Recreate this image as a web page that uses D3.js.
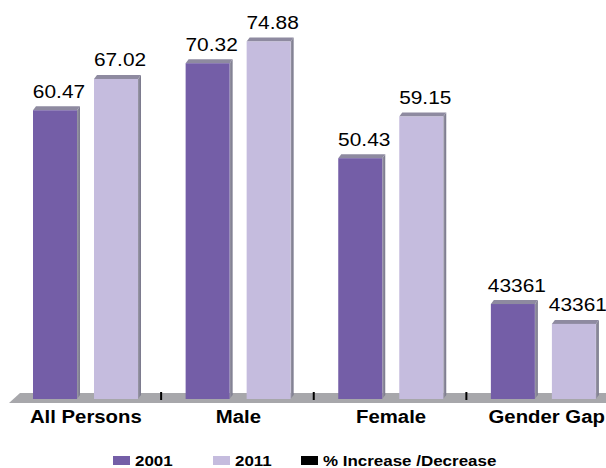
<!DOCTYPE html>
<html>
<head>
<meta charset="utf-8">
<script src="https://cdn.jsdelivr.net/npm/d3@7"></script>
<style>
  html, body { margin: 0; padding: 0; background: #fff; }
  svg { display: block; font-family: Arial, "Liberation Sans", sans-serif; }
</style>
</head>
<body>
<svg id="chart" width="606" height="468"></svg>
<script>
// Literacy rate by group, census years
const categories = ["All Persons", "Male", "Female", "Gender Gap"];
const seriesNames = ["2001", "2011", "% Increase /Decrease"];
const values2001 = [60.47, 70.32, 50.43, 19.89];
const values2011 = [67.02, 74.88, 59.15, 15.73];
// Printed labels (the gap cells carry their own display text)
const labels2001 = ["60.47", "70.32", "50.43", "43361"];
const labels2011 = ["67.02", "74.88", "59.15", "43361"];
const seriesColors = ["#745ea7", "#c5bcde", "#000000"];

const svg = d3.select("#chart");
const W = 606, H = 468;
const baseY = 399, topY = 17;
const stretch = 1.13;          // text is set slightly wide
const depth = { dx: 3, dy: -4 };

const x = d3.scaleBand().domain(categories).range([8.5, 619]).paddingInner(0).paddingOuter(0);
const xs = d3.scaleBand().domain(["2001", "2011"]).range([24.5, 129.5]).paddingInner(0.279).paddingOuter(0);
const y = d3.scaleLinear().domain([0, 80]).range([baseY, topY]);

// floor
svg.append("polygon")
  .attr("points", [[20, 393], [W, 393], [W, 403], [9, 403]].map(p => p.join(",")).join(" "))
  .attr("fill", "#a7a7ab");

// category divider ticks
const ticks = categories.slice(1).map(c => x(c));
svg.selectAll("line.tick").data(ticks).join("line")
  .attr("class", "tick")
  .attr("x1", d => d).attr("x2", d => d)
  .attr("y1", 392).attr("y2", 400)
  .attr("stroke", "#000").attr("stroke-width", 2);

const defs = svg.append("defs");
const sideGrad = defs.append("linearGradient").attr("id", "side").attr("x1", 0).attr("x2", 1);
sideGrad.append("stop").attr("offset", 0).attr("stop-color", "#9a98a6");
sideGrad.append("stop").attr("offset", 1).attr("stop-color", "#77768a");

const bars = [];
categories.forEach((c, i) => {
  bars.push({ cat: c, s: "2001", v: values2001[i], label: labels2001[i], color: seriesColors[0] });
  bars.push({ cat: c, s: "2011", v: values2011[i], label: labels2011[i], color: seriesColors[1] });
});

const g = svg.selectAll("g.bar").data(bars).join("g").attr("class", "bar");
const bw = xs.bandwidth();

// right side face
g.append("polygon")
  .attr("points", d => {
    const x0 = x(d.cat) + xs(d.s) + bw, yt = y(d.v);
    return [[x0, yt], [x0 + depth.dx, yt + depth.dy], [x0 + depth.dx, baseY + depth.dy], [x0, baseY]]
      .map(p => p.join(",")).join(" ");
  })
  .attr("fill", "url(#side)");

// top face
g.append("polygon")
  .attr("points", d => {
    const x0 = x(d.cat) + xs(d.s), yt = y(d.v);
    return [[x0, yt], [x0 + depth.dx, yt + depth.dy], [x0 + bw + depth.dx, yt + depth.dy], [x0 + bw, yt]]
      .map(p => p.join(",")).join(" ");
  })
  .attr("fill", "#8e8aa0");

// front face
g.append("rect")
  .attr("x", d => x(d.cat) + xs(d.s))
  .attr("y", d => y(d.v))
  .attr("width", bw)
  .attr("height", d => baseY - y(d.v))
  .attr("fill", d => d.color);

// value labels
g.append("text")
  .attr("transform", d => `translate(${x(d.cat) + xs(d.s) + bw / 2 + 4},${y(d.v) - 12.5}) scale(${stretch},1)`)
  .attr("text-anchor", "middle")
  .attr("font-size", 18.5)
  .attr("fill", "#000")
  .text(d => d.label);

// category labels
svg.selectAll("text.cat").data(categories).join("text")
  .attr("class", "cat")
  .attr("transform", (d, i) => `translate(${x(d) + x.bandwidth() / 2 + (i === 3 ? 4 : 1)},423) scale(${stretch},1)`)
  .attr("text-anchor", "middle")
  .attr("font-size", 18)
  .attr("font-weight", "bold")
  .text(d => d);

// legend
const legendX = [113, 213, 301];
const lg = svg.selectAll("g.legend").data(seriesNames).join("g").attr("class", "legend");
lg.append("rect")
  .attr("x", (d, i) => legendX[i]).attr("y", 456)
  .attr("width", 17).attr("height", 9)
  .attr("fill", (d, i) => seriesColors[i]);
lg.append("text")
  .attr("transform", (d, i) => `translate(${legendX[i] + 22},465.5) scale(${stretch},1)`)
  .attr("font-size", 15)
  .attr("font-weight", "bold")
  .text(d => d);
</script>
</body>
</html>
